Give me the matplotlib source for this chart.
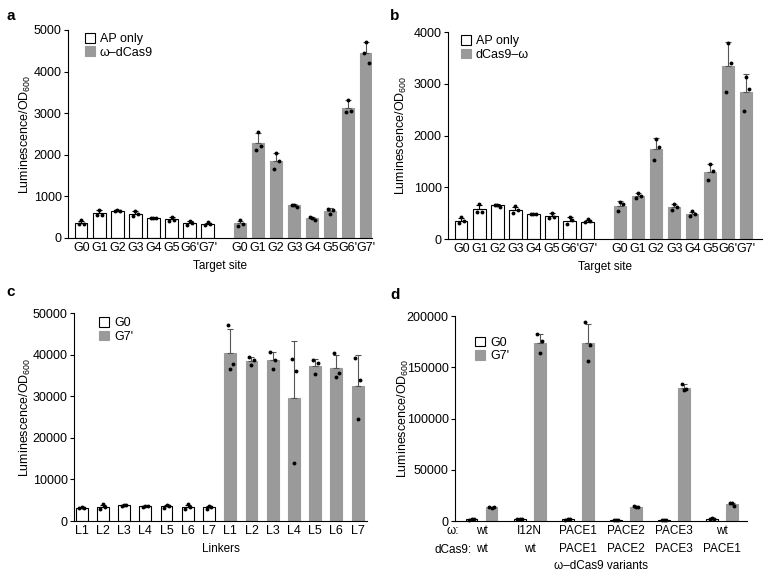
"""Luminescence bar charts for the four-panel omega-dCas9 figure."""

import matplotlib

matplotlib.use("Agg")
import matplotlib.pyplot as plt
import numpy as np
from matplotlib import font_manager
from matplotlib.patches import Patch

plt.rcParams["font.family"] = ["Liberation Sans", "DejaVu Sans"]
plt.rcParams["font.size"] = 8
plt.rcParams["mathtext.default"] = "regular"

try:
    font_manager.findfont("Liberation Sans Narrow", fallback_to_default=False)
    NARROW = ["Liberation Sans Narrow", "DejaVu Sans"]
except ValueError:
    NARROW = ["Liberation Sans", "DejaVu Sans"]

GRAY = "#9a9a9a"
YLABEL = "Luminescence/OD$_{600}$"

# ---- panel a ----
a_sites = ["G0", "G1", "G2", "G3", "G4", "G5", "G6'", "G7'"]
a_ap_mean = [360, 590, 650, 580, 480, 450, 360, 340]
a_ap_sd = [60, 75, 15, 60, 5, 45, 60, 30]
a_ap_reps = [[330, 335, 440], [560, 555, 680], [650, 640, 665], [540, 580, 650],
             [480, 478, 482], [420, 430, 500], [300, 370, 420], [320, 335, 380]]
a_om_mean = [350, 2290, 1860, 785, 475, 660, 3130, 4450]
a_om_sd = [70, 230, 190, 30, 30, 60, 180, 250]
a_om_reps = [[280, 345, 425], [2120, 2200, 2540], [1660, 1860, 2040], [785, 745, 790],
             [505, 440, 480], [705, 680, 585], [3020, 3045, 3320], [4450, 4200, 4710]]

# ---- panel b ----
b_sites = a_sites
b_ap_mean = [345, 580, 650, 565, 487, 445, 355, 335]
b_ap_sd = [60, 80, 20, 60, 5, 50, 70, 35]
b_ap_reps = [[312, 345, 425], [530, 530, 675], [656, 625, 660], [512, 560, 637],
             [487, 485, 490], [406, 425, 500], [281, 362, 425], [325, 340, 394]]
b_om_mean = [640, 830, 1745, 615, 485, 1300, 3340, 2840]
b_om_sd = [90, 50, 200, 65, 45, 150, 465, 340]
b_om_reps = [[535, 677, 716], [794, 826, 890], [1523, 1781, 1935], [555, 619, 684],
             [452, 477, 535], [1148, 1310, 1452], [2845, 3406, 3781], [2471, 2903, 3135]]

# ---- panel c ----
c_linkers = ["L1", "L2", "L3", "L4", "L5", "L6", "L7"]
c_g0_mean = [3200, 3450, 3800, 3500, 3500, 3450, 3250]
c_g0_sd = [100, 500, 80, 50, 300, 500, 300]
c_g0_reps = [[3100, 3200, 3300], [3000, 3300, 4100], [3700, 3800, 3850], [3480, 3500, 3520],
             [3200, 3500, 3800], [3000, 3400, 4000], [2900, 3300, 3550]]
c_g7_mean = [40400, 38500, 38700, 29600, 37300, 36900, 32500]
c_g7_sd = [5800, 900, 2000, 13700, 1700, 3000, 7400]
c_g7_reps = [[47100, 37700, 36500], [39500, 38700, 37500], [40700, 38700, 36500],
             [38900, 36100, 13900], [38700, 37900, 35300], [40300, 35500, 34700],
             [39300, 33900, 24500]]

# ---- panel d ----
d_omega = ["wt", "I12N", "PACE1", "PACE2", "PACE3", "wt"]
d_dcas9 = ["wt", "wt", "PACE1", "PACE2", "PACE3", "PACE1"]
d_g0_mean = [1500, 2000, 1500, 1200, 1000, 2200]
d_g0_sd = [200, 300, 200, 100, 100, 400]
d_g0_reps = [[1300, 1500, 1700], [1700, 2000, 2300], [1300, 1500, 1700],
             [1100, 1200, 1300], [900, 1000, 1100], [1800, 2200, 2600]]
d_g7_mean = [13500, 173700, 173700, 14000, 130300, 16400]
d_g7_sd = [500, 9000, 19000, 500, 3300, 1300]
d_g7_reps = [[14000, 13300, 13100], [182800, 175300, 164300], [193800, 172100, 155800],
             [14600, 14000, 13600], [134100, 128600, 128200], [17200, 14900, 17200]]

JITTER = np.array([-0.2, 0.2, 0.0])


def draw_bars(ax, x, mean, sd, reps, filled, width):
    face = GRAY if filled else "white"
    edge = GRAY if filled else "black"
    ecol = "#555555" if filled else "black"
    ax.bar(x, mean, width, color=face, edgecolor=edge, linewidth=0.8, zorder=2)
    ax.errorbar(x, mean, yerr=[np.zeros(len(sd)), sd], fmt="none", ecolor=ecol,
                elinewidth=0.8, capsize=2, capthick=0.8, zorder=3)
    for xi, r in zip(x, reps):
        ax.plot(xi + JITTER * width, r, "o", color="black", markersize=2.8,
                markeredgewidth=0, zorder=4, clip_on=False)


def style_axes(ax, ymax, step, label_x):
    ax.spines["top"].set_visible(False)
    ax.spines["right"].set_visible(False)
    ax.spines["left"].set_linewidth(0.8)
    ax.spines["bottom"].set_linewidth(0.8)
    ax.set_ylim(0, ymax)
    ax.set_yticks(np.arange(0, ymax + 1, step))
    ax.tick_params(axis="y", length=3, width=0.8, labelsize=9, pad=1.5)
    ax.tick_params(axis="x", length=0, labelsize=9, pad=3)
    ax.set_ylabel(YLABEL, fontsize=9)
    ax.yaxis.set_label_coords(label_x, 0.5)


def add_legend(ax, labels, x, y):
    handles = [Patch(facecolor="white", edgecolor="black", linewidth=0.8),
               Patch(facecolor=GRAY, edgecolor=GRAY, linewidth=0.8)]
    ax.legend(handles, labels, loc="upper left", bbox_to_anchor=(x, y), frameon=False,
              handlelength=0.8, handleheight=0.8, handletextpad=0.4, labelspacing=0.1,
              borderpad=0, borderaxespad=0, fontsize=9)


fig = plt.figure(figsize=(7.65, 5.74), dpi=100)

# panel a
ax = fig.add_axes([0.0889, 0.5854, 0.397, 0.3624])
xa1 = np.arange(len(a_sites))
xa2 = xa1 + 8.8
draw_bars(ax, xa1, a_ap_mean, a_ap_sd, a_ap_reps, False, 0.68)
draw_bars(ax, xa2, a_om_mean, a_om_sd, a_om_reps, True, 0.68)
style_axes(ax, 5000, 1000, -0.115)
ax.set_xlim(-0.74, 16.1)
ax.set_xticks(np.concatenate([xa1, xa2]))
ax.set_xticklabels(a_sites + a_sites)
ax.set_xlabel("Target site", fontsize=8.5, labelpad=4)
add_legend(ax, ["AP only", "ω–dCas9"], 0.055, 0.985)

# panel b
ax = fig.add_axes([0.5856, 0.5836, 0.4105, 0.3606])
xb1 = np.arange(len(b_sites))
xb2 = xb1 + 8.8
draw_bars(ax, xb1, b_ap_mean, b_ap_sd, b_ap_reps, False, 0.68)
draw_bars(ax, xb2, b_om_mean, b_om_sd, b_om_reps, True, 0.68)
style_axes(ax, 4000, 1000, -0.124)
ax.set_xlim(-0.74, 16.67)
ax.set_xticks(np.concatenate([xb1, xb2]))
ax.set_xticklabels(b_sites + b_sites)
ax.set_xlabel("Target site", fontsize=8.5, labelpad=4)
add_legend(ax, ["AP only", "dCas9–ω"], 0.04, 0.985)

# panel c
ax = fig.add_axes([0.0967, 0.0923, 0.383, 0.3624])
xc1 = np.arange(len(c_linkers))
xc2 = xc1 + len(c_linkers)
draw_bars(ax, xc1, c_g0_mean, c_g0_sd, c_g0_reps, False, 0.56)
draw_bars(ax, xc2, c_g7_mean, c_g7_sd, c_g7_reps, True, 0.56)
style_axes(ax, 50000, 10000, -0.14)
ax.set_xlim(-0.36, 13.44)
ax.set_xticks(np.concatenate([xc1, xc2]))
ax.set_xticklabels(c_linkers + c_linkers)
ax.set_xlabel("Linkers", fontsize=8.5, labelpad=4)
add_legend(ax, ["G0", "G7'"], 0.085, 0.98)

# panel d
ax = fig.add_axes([0.5948, 0.0923, 0.3817, 0.357])
gd = np.arange(len(d_omega)) * 2.4
draw_bars(ax, gd - 0.5, d_g0_mean, d_g0_sd, d_g0_reps, False, 0.58)
draw_bars(ax, gd + 0.5, d_g7_mean, d_g7_sd, d_g7_reps, True, 0.58)
style_axes(ax, 200000, 50000, -0.151)
ax.set_xlim(-1.33, 13.25)
ax.set_xticks(gd)
ax.set_xticklabels([f"{o}\n{d}" for o, d in zip(d_omega, d_dcas9)],
                   linespacing=1.6, fontsize=8.5, family=NARROW)
row_tf = ax.get_xaxis_transform()
ax.text(-1.42, -0.05, "ω:", transform=row_tf, ha="center", va="center",
        fontsize=8.5, family=NARROW)
ax.text(-1.42, -0.142, "dCas9:", transform=row_tf, ha="center", va="center",
        fontsize=8.5, family=NARROW)
ax.set_xlabel("ω–dCas9 variants", fontsize=8.5, labelpad=4)
add_legend(ax, ["G0", "G7'"], 0.07, 0.9)

for lbl, x, y in [("a", 0.008, 0.985), ("b", 0.51, 0.985), ("c", 0.008, 0.503),
                  ("d", 0.51, 0.498)]:
    fig.text(x, y, lbl, fontsize=11, fontweight="bold", va="top", ha="left")

fig.savefig("out.png", dpi=100)
